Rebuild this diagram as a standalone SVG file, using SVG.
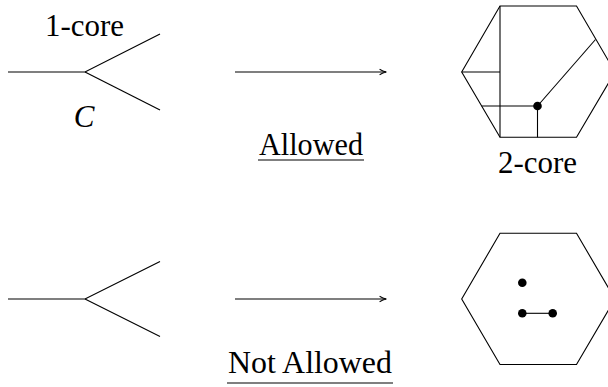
<svg xmlns="http://www.w3.org/2000/svg" width="608" height="387" viewBox="0 0 608 387">
<style>
.ln{stroke:#000;stroke-width:1.2;fill:none}
.hx{stroke:#000;stroke-width:1.1;fill:none;stroke-linejoin:miter}
text{font-family:'Liberation Serif','Times New Roman',serif;font-size:31px;fill:#000}
.it{font-style:italic}
.dot{fill:#000}
</style>
<defs>
<marker id="ah" viewBox="0 0 10 10" refX="9" refY="5" markerWidth="8" markerHeight="8" markerUnits="userSpaceOnUse" orient="auto">
<path d="M1,1.5 Q5,4 9.5,5 Q5,6 1,8.5" fill="none" stroke="#000" stroke-width="1.3"/>
</marker>
</defs>
<g id="connectors">
<line class="ln" x1="235" y1="72" x2="386" y2="72" marker-end="url(#ah)"/>
<line class="ln" x1="235" y1="299" x2="386" y2="299" marker-end="url(#ah)"/>
</g>
<g id="tree-top">
<polyline class="ln" points="8,72 85,72 160,34"/>
<line class="ln" x1="85" y1="72" x2="160" y2="110"/>
<text x="45" y="36" textLength="79" lengthAdjust="spacingAndGlyphs">1-core</text>
<text class="it" x="84" y="127" text-anchor="middle">C</text>
</g>
<g id="label-allowed">
<text x="259" y="155" textLength="104" lengthAdjust="spacingAndGlyphs">Allowed</text>
<line class="ln" x1="258" y1="160" x2="364" y2="160"/>
</g>
<g id="hex-top">
<polygon class="hx" points="500,6 576.5,6 615,72 576.5,137.3 500,137.3 461.7,72"/>
<line class="hx" x1="500" y1="6" x2="500" y2="137.3"/>
<line class="hx" x1="461.7" y1="72" x2="500" y2="72"/>
<line class="hx" x1="481.7" y1="106" x2="537.5" y2="106"/>
<line class="hx" x1="537.5" y1="106" x2="537.5" y2="137.3"/>
<line class="hx" x1="537.5" y1="106" x2="595.5" y2="39.5"/>
<circle class="dot" cx="537.5" cy="106" r="4.3"/>
<text x="498" y="173" textLength="79" lengthAdjust="spacingAndGlyphs">2-core</text>
</g>
<g id="tree-bottom">
<polyline class="ln" points="8,299 85,299 160,261.5"/>
<line class="ln" x1="85" y1="299" x2="160" y2="336.5"/>
</g>
<g id="label-notallowed">
<text x="228" y="373" textLength="164" lengthAdjust="spacingAndGlyphs">Not Allowed</text>
<line class="ln" x1="227" y1="383" x2="393" y2="383"/>
</g>
<g id="hex-bottom">
<polygon class="hx" points="500,233.3 576.5,233.3 615,299 576.5,364.5 500,364.5 461.7,299"/>
<line class="hx" x1="522.3" y1="313.3" x2="552.7" y2="313.3"/>
<circle class="dot" cx="522.3" cy="282.7" r="4.3"/>
<circle class="dot" cx="522.3" cy="313.3" r="4.3"/>
<circle class="dot" cx="552.7" cy="313.3" r="4.3"/>
</g>
</svg>
